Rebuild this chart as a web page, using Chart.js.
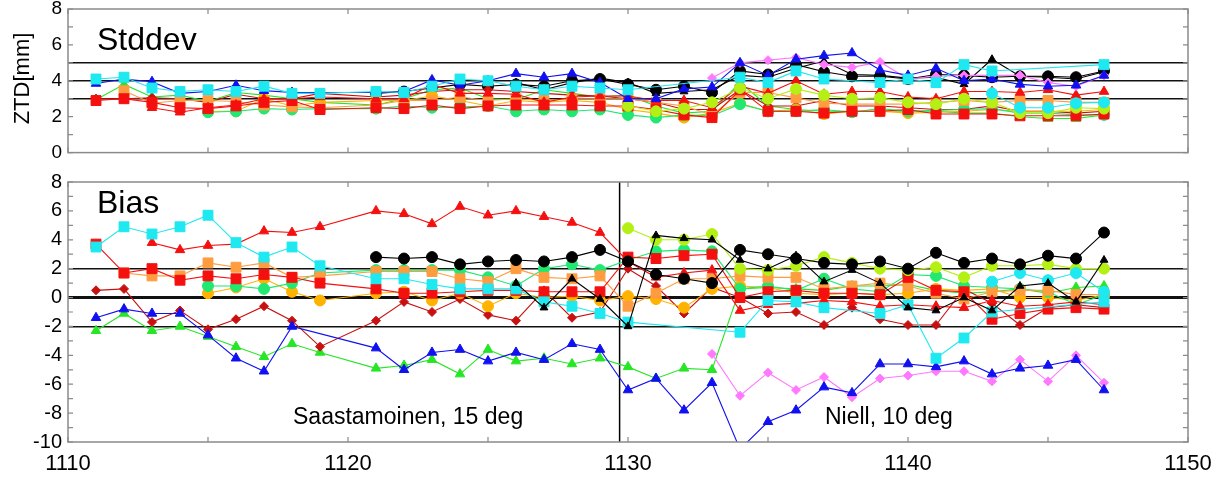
<!DOCTYPE html>
<html>
<head>
<meta charset="utf-8">
<script src="https://cdn.jsdelivr.net/npm/chart.js@4.4.1/dist/chart.umd.min.js"></script>
<style>
  html, body { margin: 0; padding: 0; background: #fff; }
  body { width: 1222px; height: 478px; position: relative; overflow: hidden; }
  canvas { position: absolute; left: 0; }
  #sdChart { top: -20px; }
  #biasChart { top: 160px; }
</style>
</head>
<body>
<canvas id="sdChart" width="1222" height="190"></canvas>
<canvas id="biasChart" width="1222" height="318"></canvas>
<script>
const N = null;

// days (no data on day 1120)
const days = [1111,1112,1113,1114,1115,1116,1117,1118,1119,
  1121,1122,1123,1124,1125,1126,1127,1128,1129,1130,
  1131,1132,1133,1134,1135,1136,1137,1138,1139,1140,
  1141,1142,1143,1144,1145,1146,1147];

// ---- Stddev panel (mm)
const sdCyanSq = [4.1,4.2,3.6,3.4,3.5,3.4,3.7,3.3,3.3,
  3.4,3.35,3.7,4.1,4.0,3.7,3.5,3.7,3.6,3.5,
  N,N,N,4.2,3.9,4.55,4.1,N,3.9,4.1,
  3.9,4.9,4.55,N,N,N,4.9];
const sdRedTri = [N,N,2.5,2.25,2.5,2.65,3.0,3.0,3.1,
  3.0,3.0,3.8,3.3,3.3,3.25,2.8,3.1,3.15,3.15,
  2.9,2.9,2.5,3.7,3.3,4.0,3.25,3.4,3.4,3.1,
  3.0,3.4,3.4,3.35,3.5,3.2,3.4];
const sdRedSq = [2.9,3.0,2.8,2.5,2.45,2.6,2.8,2.9,2.4,
  2.5,2.45,2.65,2.45,2.6,2.65,2.65,2.65,2.6,2.6,
  2.4,2.1,1.95,3.5,2.3,2.3,2.2,2.3,2.3,2.4,
  2.15,2.15,2.15,2.05,2.05,2.05,2.15];
const sdOrangeSq = [N,3.45,2.75,2.9,2.9,2.85,2.65,2.55,2.5,
  2.65,2.9,2.9,3.1,2.9,3.0,2.9,3.0,3.0,3.0,
  2.8,2.6,2.1,3.35,3.35,3.05,2.75,2.7,2.7,2.7,
  2.8,2.9,2.8,2.9,2.9,2.8,2.8];
const sdGreenCirc = [N,N,N,N,2.25,2.3,2.45,2.4,2.45,
  2.45,2.6,2.5,2.55,2.6,2.3,2.4,2.3,2.4,2.1,
  1.95,2.1,2.05,2.7,2.3,2.3,2.4,2.25,2.45,2.3,
  2.35,2.4,2.45,2.2,2.2,2.1,2.1];
const sdGoldCirc = [N,N,N,N,2.3,2.3,3.0,2.6,2.8,
  2.9,2.9,3.15,2.9,2.6,2.9,2.8,2.9,2.8,2.4,
  2.2,1.95,2.2,2.75,2.3,2.4,2.15,2.3,2.3,2.2,
  2.25,2.3,2.4,2.3,2.3,2.3,2.4];
const sdDarkRedDia = [3.0,3.0,3.05,3.0,2.8,3.25,3.0,3.0,3.3,
  3.1,3.2,3.4,3.5,3.5,3.4,3.3,3.2,3.15,3.0,
  2.8,2.4,2.4,3.5,2.6,2.6,2.9,2.6,2.6,2.5,
  2.4,2.4,2.6,2.3,2.3,2.2,2.3];
const sdBlueTri = [3.85,4.1,3.95,3.3,3.4,3.75,3.45,3.35,N,
  3.35,3.4,4.05,3.75,4.0,4.4,4.2,4.4,3.9,3.0,
  3.0,3.55,3.65,5.0,4.3,5.2,5.4,5.55,4.6,4.3,
  4.7,4.0,4.1,3.8,3.7,3.75,4.3];
const sdGreenTri = [2.95,3.8,3.1,3.2,2.85,3.35,3.2,3.0,2.8,
  2.65,3.0,3.5,3.6,3.0,2.95,3.5,3.3,3.1,3.2,
  2.6,2.2,2.3,3.9,2.6,2.4,2.3,2.3,2.3,2.3,
  2.3,2.2,2.2,2.0,1.9,1.9,2.1];
const sdBlackCirc = [N,N,N,N,N,N,N,N,N,
  3.3,3.4,3.6,3.8,3.7,3.8,3.7,4.0,4.1,3.8,
  3.5,3.7,3.35,4.55,4.35,4.9,4.5,4.25,4.25,4.1,
  4.35,4.3,4.2,4.25,4.25,4.2,4.55];
const sdBlackTri = [N,N,N,N,N,N,N,N,N,
  N,N,N,N,N,3.9,3.5,3.9,4.15,3.9,
  3.3,3.4,3.5,4.3,4.2,4.7,5.1,4.35,4.3,4.15,
  4.2,3.8,5.2,4.25,4.2,4.1,4.5];
const sdYellowGreen = [N,N,N,N,N,N,N,N,N,
  N,N,N,N,N,N,N,N,N,2.6,
  2.3,2.45,2.8,3.6,3.0,3.55,3.2,3.0,3.05,2.8,
  2.7,3.0,2.8,2.2,2.2,2.5,2.45];
const sdViolet = [N,N,N,N,N,N,N,N,N,
  N,N,N,N,N,N,N,N,N,N,
  N,N,4.15,5.0,5.15,5.3,4.9,4.75,5.05,4.1,
  4.25,4.3,4.3,4.3,3.9,3.7,4.3];
const sdCyanCirc = [N,N,N,N,N,N,N,N,N,
  N,N,N,N,N,N,N,N,N,N,
  N,N,N,N,N,N,N,N,N,N,
  N,N,3.3,2.5,2.5,2.75,2.8];

// ---- Bias panel (mm)
const biasCyanSq = [3.5,4.9,4.4,4.9,5.7,3.8,2.8,3.5,2.2,
  1.3,1.3,0.9,0.6,0.6,0.6,-0.3,-0.6,-1.1,-1.7,
  N,N,N,-2.4,-0.2,-0.3,-0.7,N,-1.1,-0.5,
  -4.2,-2.8,-1.0,N,N,N,-0.3];
const biasRedTri = [N,N,3.8,3.3,3.6,3.7,4.6,4.5,4.9,
  6.0,5.8,5.1,6.3,5.7,6.0,5.6,5.2,4.5,2.5,
  1.4,1.7,1.9,-0.9,-0.5,-0.4,-0.2,-0.3,-0.6,-0.5,
  -0.6,-0.7,-0.2,-0.6,-0.5,-0.3,-0.5];
const biasRedSq = [3.7,1.7,2.0,1.2,1.5,1.3,1.6,1.4,1.0,
  0.6,0.3,0.3,0.4,0.5,0.5,0.4,0.4,0.4,2.8,
  2.7,2.9,3.0,0.0,0.4,0.5,0.3,0.3,0.2,1.4,
  0.5,0.4,-1.5,-1.1,-0.8,-0.7,-0.8];
const biasOrangeSq = [N,1.7,1.5,1.5,2.4,2.1,2.4,1.4,1.5,
  1.8,1.8,1.8,1.3,1.1,2.0,1.4,1.3,1.5,-0.6,
  0.3,1.3,1.3,1.5,1.4,1.4,0.6,0.8,1.0,0.8,
  0.3,-0.1,0.4,0.5,0.5,0.2,0.2];
const biasGreenCirc = [N,N,N,N,0.8,0.8,0.6,1.0,1.7,
  1.9,1.9,1.9,1.9,1.4,0.8,2.0,2.3,1.9,2.6,
  3.2,3.3,3.2,0.6,0.8,0.5,1.3,0.6,0.4,1.6,
  1.5,0.8,0.7,0.6,0.4,-0.5,0.2];
const biasGoldCirc = [N,N,N,N,0.3,0.7,1.3,0.4,-0.2,
  0.3,0.4,-0.2,0.3,-0.6,0.3,0.0,0.1,-0.2,0.1,
  -0.1,-0.7,0.6,0.8,0.7,0.3,0.2,0.3,0.2,0.3,
  0.6,0.5,0.6,0.0,0.0,-0.2,0.2];
const biasDarkRedDia = [0.5,0.6,-1.7,-0.9,-2.2,-1.5,-0.6,-1.6,-3.4,
  -1.6,-0.3,-1.0,-0.1,-1.2,-1.6,0.5,-1.4,-1.0,2.0,
  0.8,-1.1,0.7,0.0,-1.1,-1.0,-1.9,-0.7,-1.5,-1.9,
  -1.9,0.6,-0.4,-1.9,-0.7,-0.5,-0.7];
const biasBlueTri = [-1.4,-0.8,-1.1,-1.1,-2.6,-4.2,-5.1,-2.0,N,
  -3.5,-5.0,-3.8,-3.6,-4.4,-3.8,-4.3,-3.2,-3.6,-6.4,
  -5.6,-7.8,-5.9,-10.5,-8.6,-7.8,-6.2,-6.6,-4.6,-4.6,
  -4.8,-4.4,-5.3,-4.9,-4.7,-4.3,-6.4];
const biasGreenTri = [-2.3,-1.1,-2.3,-2.0,-2.7,-3.4,-4.1,-3.2,-3.8,
  -4.9,-4.7,-4.3,-5.3,-3.6,-4.4,-4.2,-4.6,-4.2,-4.8,
  -5.6,-4.9,-5.0,0.6,0.7,0.6,0.5,0.8,0.8,0.9,
  0.5,0.3,0.4,0.6,0.3,0.7,0.8];
const biasBlackCirc = [N,N,N,N,N,N,N,N,N,
  2.8,2.7,2.8,2.3,2.5,2.6,2.5,2.8,3.3,2.5,
  1.6,1.3,1.0,3.3,3.0,2.7,2.4,2.3,2.5,2.0,
  3.1,2.4,2.7,2.3,2.9,2.7,4.5];
const biasBlackTri = [N,N,N,N,N,N,N,N,N,
  N,N,N,N,N,1.0,-0.7,1.3,-0.1,-2.0,
  4.3,4.1,4.0,2.6,2.0,2.9,1.1,1.9,1.0,-0.7,
  -0.9,0.0,-0.9,0.8,1.0,-0.3,2.6];
const biasYellowGreen = [N,N,N,N,N,N,N,N,N,
  N,N,N,N,N,N,N,N,N,4.8,
  4.0,4.0,4.4,2.0,1.9,2.2,2.8,2.4,2.0,1.9,
  2.1,1.4,2.2,2.2,2.3,2.0,2.0];
const biasViolet = [N,N,N,N,N,N,N,N,N,
  N,N,N,N,N,N,N,N,N,N,
  N,N,-3.9,-6.8,-5.2,-6.4,-5.5,-6.9,-5.6,-5.4,
  -5.1,-5.1,-5.8,-4.3,-5.8,-4.0,-5.9];
const biasCyanCirc = [N,N,N,N,N,N,N,N,N,
  N,N,N,N,N,N,N,N,N,N,
  N,N,N,N,N,N,N,N,N,N,
  N,N,1.1,1.7,1.2,1.7,0.4];

// drawing order: first entry ends up on top (sdOrder lifts a series down in the Stddev panel)
const series = [
  { sd: sdBlackCirc,   bias: biasBlackCirc,   color: '#000000', style: 'circle',   r: 5.5, sdOrder: 1 },
  { sd: sdBlackTri,    bias: biasBlackTri,    color: '#000000', style: 'triangle', r: 4.5, sdOrder: 1 },
  { sd: sdCyanSq,      bias: biasCyanSq,      color: '#1ee8f0', style: 'rect',     r: 7 },
  { sd: sdCyanCirc,    bias: biasCyanCirc,    color: '#1ee8f0', style: 'circle',   r: 5.5 },
  { sd: sdBlueTri,     bias: biasBlueTri,     color: '#1010f0', style: 'triangle', r: 5.5 },
  { sd: sdViolet,      bias: biasViolet,      color: '#ff78ff', style: 'rectRot',  r: 4.5 },
  { sd: sdYellowGreen, bias: biasYellowGreen, color: '#b4f014', style: 'circle',   r: 5.5 },
  { sd: sdRedTri,      bias: biasRedTri,      color: '#f51010', style: 'triangle', r: 5.5 },
  { sd: sdRedSq,       bias: biasRedSq,       color: '#f51010', style: 'rect',     r: 7 },
  { sd: sdOrangeSq,    bias: biasOrangeSq,    color: '#ff9c40', style: 'rect',     r: 7 },
  { sd: sdGreenCirc,   bias: biasGreenCirc,   color: '#20e870', style: 'circle',   r: 5.5 },
  { sd: sdGoldCirc,    bias: biasGoldCirc,    color: '#ffb300', style: 'circle',   r: 5.5 },
  { sd: sdDarkRedDia,  bias: biasDarkRedDia,  color: '#c81010', style: 'rectRot',  r: 4.5 },
  { sd: sdGreenTri,    bias: biasGreenTri,    color: '#26e626', style: 'triangle', r: 5.5 }
];

const FONT = "'Liberation Sans', Arial, Helvetica, sans-serif";
Chart.defaults.font.family = FONT;
Chart.defaults.color = '#000';

function makeDatasets(key) {
  return series.map(s => ({
    data: days.map((d, i) => ({ x: d, y: s[key][i] })),
    order: key === 'sd' ? (s.sdOrder || 0) : 0,
    borderColor: s.color,
    backgroundColor: s.color,
    borderWidth: 1.1,
    pointStyle: s.style,
    pointRadius: s.r,
    pointBorderWidth: 1,
    pointBorderColor: s.color,
    pointBackgroundColor: s.color,
    spanGaps: true,
    tension: 0,
    clip: 0
  }));
}

// frame, inner tick marks, divider and panel texts
const panelDecor = {
  id: 'panelDecor',
  beforeDatasetsDraw(chart, args, o) {
    if (o.split == null) return;
    const { ctx, chartArea: a, scales: { x } } = chart;
    const px = x.getPixelForValue(o.split);
    ctx.save();
    ctx.strokeStyle = '#000';
    ctx.lineWidth = 1.5;
    ctx.beginPath();
    ctx.moveTo(px, a.top);
    ctx.lineTo(px, a.bottom);
    ctx.stroke();
    ctx.restore();
  },
  afterDraw(chart, args, o) {
    const { ctx, chartArea: a, scales: { x, y } } = chart;
    ctx.save();
    ctx.strokeStyle = '#8a8a8a';
    ctx.lineWidth = 1.2;
    ctx.beginPath();
    for (let v = y.min; v <= y.max; v++) {
      const py = y.getPixelForValue(v);
      ctx.moveTo(a.left, py); ctx.lineTo(a.left + 5, py);
      ctx.moveTo(a.right - 5, py); ctx.lineTo(a.right, py);
    }
    for (let v = x.min; v <= x.max; v += 5) {
      const px = x.getPixelForValue(v);
      ctx.moveTo(px, a.top); ctx.lineTo(px, a.top + 5);
      ctx.moveTo(px, a.bottom - 5); ctx.lineTo(px, a.bottom);
    }
    ctx.stroke();
    ctx.lineWidth = 1.5;
    ctx.strokeRect(a.left, a.top, a.right - a.left, a.bottom - a.top);

    ctx.fillStyle = '#000';
    ctx.textBaseline = 'alphabetic';
    ctx.textAlign = 'left';
    (o.texts || []).forEach(t => {
      ctx.font = t.size + 'px ' + FONT;
      ctx.fillText(t.text, a.left + t.dx, a.top + t.dy);
    });
    if (o.yTitle) {
      ctx.translate(23, a.top + 69.5);
      ctx.rotate(-Math.PI / 2);
      ctx.textAlign = 'center';
      ctx.textBaseline = 'middle';
      ctx.font = '22px ' + FONT;
      ctx.fillText(o.yTitle, 0, 0);
    }
    ctx.restore();
  }
};

function makeOptions(yMin, yMax, refs, thickZero, showX, labelSize, decor, padding) {
  return {
    responsive: false,
    animation: false,
    events: [],
    layout: { padding: padding },
    plugins: { legend: { display: false }, tooltip: { enabled: false }, panelDecor: decor },
    scales: {
      x: {
        type: 'linear',
        min: 1110,
        max: 1150,
        display: showX,
        grid: { display: false, drawTicks: false },
        border: { display: false },
        ticks: {
          stepSize: 5,
          autoSkip: false,
          maxRotation: 0,
          padding: 9,
          color: '#000',
          font: { size: 22 },
          callback: v => (v % 10 === 0 ? String(v) : '')
        },
        afterFit: s => { s.height = showX ? 36 : 0; }
      },
      y: {
        min: yMin,
        max: yMax,
        border: { display: false },
        grid: {
          drawTicks: false,
          color: c => (refs.includes(c.tick.value) ? '#111' : 'rgba(0,0,0,0)'),
          lineWidth: c => (thickZero && c.tick.value === 0 ? 3 : 1.6)
        },
        ticks: {
          stepSize: 1,
          autoSkip: false,
          padding: 6,
          color: '#000',
          font: { size: labelSize },
          callback: v => (v % 2 === 0 ? String(v) : '')
        },
        afterFit: s => { s.width = 68; }
      }
    }
  };
}

new Chart(document.getElementById('sdChart'), {
  type: 'line',
  data: { datasets: makeDatasets('sd') },
  options: makeOptions(0, 8, [3, 4, 5], false, false, 19, {
    yTitle: 'ZTD[mm]',
    texts: [{ text: 'Stddev', dx: 29, dy: 41, size: 32 }]
  }, { top: 29, right: 34, bottom: 16, left: 0 }),
  plugins: [panelDecor]
});

new Chart(document.getElementById('biasChart'), {
  type: 'line',
  data: { datasets: makeDatasets('bias') },
  options: makeOptions(-10, 8, [2, 0, -2], true, true, 20, {
    split: 1129.7,
    texts: [
      { text: 'Bias', dx: 29, dy: 31, size: 32 },
      { text: 'Saastamoinen, 15 deg', dx: 225, dy: 242, size: 23 },
      { text: 'Niell, 10 deg', dx: 757, dy: 242, size: 23 }
    ]
  }, { top: 22, right: 34, bottom: 0, left: 0 }),
  plugins: [panelDecor]
});
</script>
</body>
</html>
